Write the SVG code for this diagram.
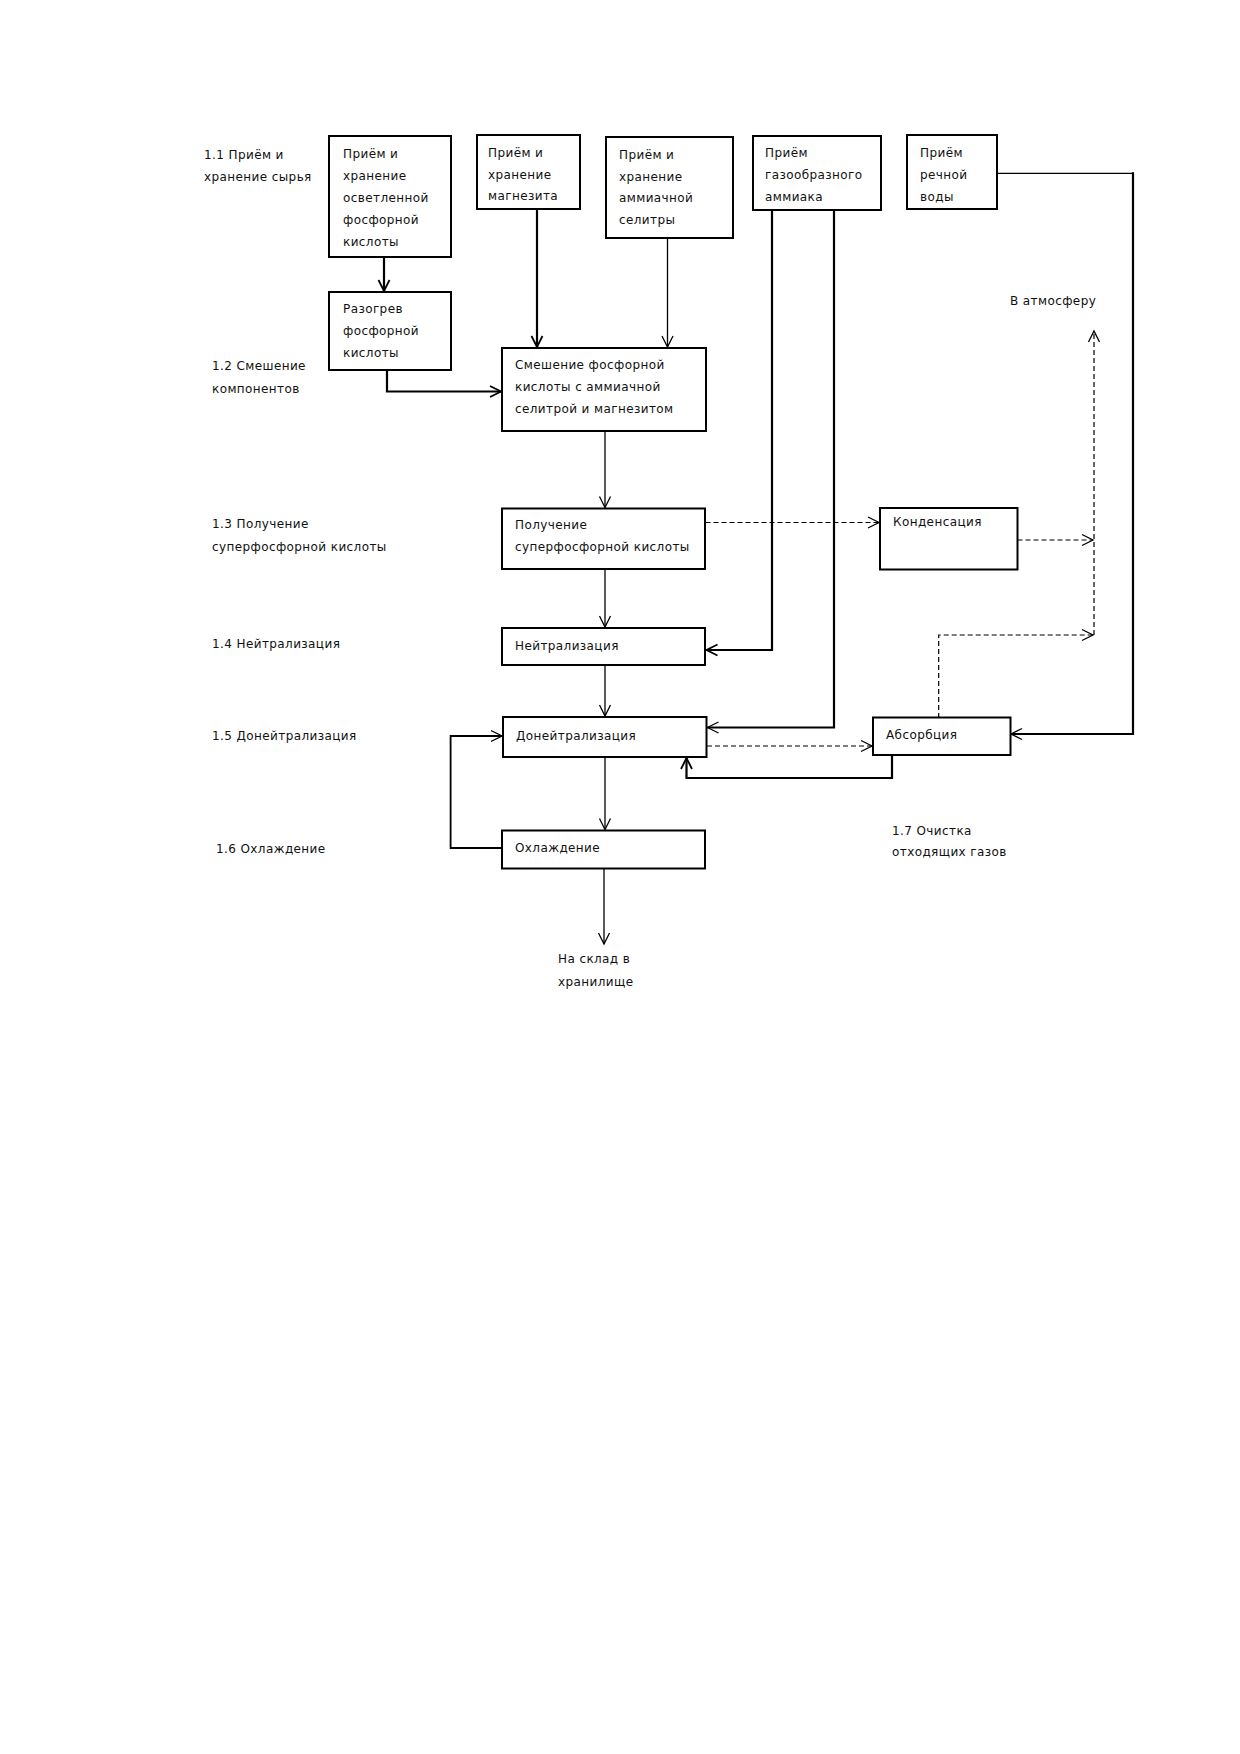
<svg xmlns="http://www.w3.org/2000/svg" width="1240" height="1754" viewBox="0 0 1240 1754">
<style>
text{font-family:"DejaVu Sans","Liberation Sans",sans-serif;font-size:12px;letter-spacing:0.4px;fill:#111}
.box{fill:#fff;stroke:#000;stroke-width:2}
.thin{fill:none;stroke:#000;stroke-width:1.3}
.thick{fill:none;stroke:#000;stroke-width:2.2}
.dash{fill:none;stroke:#000;stroke-width:1.2;stroke-dasharray:5,3}
</style>
<defs>
<marker id="a" markerUnits="userSpaceOnUse" orient="auto" refX="0" refY="0" markerWidth="14" markerHeight="14" overflow="visible">
<path d="M-11,-5.5 L0,0 L-11,5.5" fill="none" stroke="#000" stroke-width="1.3"/>
</marker>
<marker id="b" markerUnits="userSpaceOnUse" orient="auto" refX="0" refY="0" markerWidth="14" markerHeight="14" overflow="visible">
<path d="M-11,-5.5 L0,0 L-11,5.5" fill="none" stroke="#000" stroke-width="1.8"/>
</marker>
</defs>
<rect width="1240" height="1754" fill="#fff"/>
<g id="labels">
<text x="204" y="159">1.1 Приём и</text>
<text x="204" y="181">хранение сырья</text>
<text x="212" y="370">1.2 Смешение</text>
<text x="212" y="393">компонентов</text>
<text x="212" y="528">1.3 Получение</text>
<text x="212" y="551">суперфосфорной  кислоты</text>
<text x="212" y="648">1.4 Нейтрализация</text>
<text x="212" y="740">1.5 Донейтрализация</text>
<text x="216" y="853">1.6 Охлаждение</text>
<text x="892" y="835">1.7 Очистка</text>
<text x="892" y="856">отходящих газов</text>
<text x="558" y="963">На склад в</text>
<text x="558" y="986">хранилище</text>
<text x="1010" y="305">В атмосферу</text>
</g>
<g id="connectors">
<path class="thick" d="M384,257 V291" marker-end="url(#b)"/>
<path class="thick" d="M387,370 V391.5 H501" marker-end="url(#b)"/>
<path class="thick" d="M537,209 V347" marker-end="url(#b)"/>
<path class="thin" d="M667.5,238 V347" marker-end="url(#a)"/>
<path class="thin" d="M605,431 V507.5" marker-end="url(#a)"/>
<path class="thin" d="M605,569 V627" marker-end="url(#a)"/>
<path class="thin" d="M605,665 V716" marker-end="url(#a)"/>
<path class="thin" d="M605,757 V829.5" marker-end="url(#a)"/>
<path class="thin" d="M604,869 V944" marker-end="url(#a)"/>
<path class="thick" style="stroke-width:1.8" d="M502,848 H450.6 V736 H502" marker-end="url(#a)"/>
<path class="thick" d="M772,210 V650 H706.5" marker-end="url(#b)"/>
<path class="thick" d="M834,210 V727.5 H707.5" marker-end="url(#a)"/>
<path class="thin" d="M997,173.3 H1133"/>
<path class="thick" d="M1133,172.3 V734 H1011" marker-end="url(#a)"/>
<path class="thick" d="M892,755 V778 H686.5 V758" marker-end="url(#b)"/>
<path class="dash" d="M705.5,522.5 H879" marker-end="url(#a)"/>
<path class="dash" d="M1017.5,540 H1093" marker-end="url(#a)"/>
<path class="dash" d="M938.7,718 V635 H1093" marker-end="url(#a)"/>
<path class="dash" d="M1094,635 V331" marker-end="url(#a)"/>
<path class="dash" d="M707,746 H872" marker-end="url(#a)"/>
</g>
<g id="n1"><rect class="box" x="329" y="136" width="122" height="121"/>
<text x="343" y="158">Приём и</text><text x="343" y="180">хранение</text><text x="343" y="202">осветленной</text><text x="343" y="224">фосфорной</text><text x="343" y="246">кислоты</text></g>
<g id="n2"><rect class="box" x="477" y="135" width="103" height="74"/>
<text x="488" y="157">Приём и</text><text x="488" y="179">хранение</text><text x="488" y="200">магнезита</text></g>
<g id="n3"><rect class="box" x="606" y="137" width="127" height="101"/>
<text x="619" y="159">Приём и</text><text x="619" y="181">хранение</text><text x="619" y="202">аммиачной</text><text x="619" y="224">селитры</text></g>
<g id="n4"><rect class="box" x="753" y="136" width="128" height="74"/>
<text x="765" y="157">Приём</text><text x="765" y="179">газообразного</text><text x="765" y="201">аммиака</text></g>
<g id="n5"><rect class="box" x="907" y="135" width="90" height="74"/>
<text x="920" y="157">Приём</text><text x="920" y="179">речной</text><text x="920" y="201">воды</text></g>
<g id="n6"><rect class="box" x="329" y="292" width="122" height="78"/>
<text x="343" y="313">Разогрев</text><text x="343" y="335">фосфорной</text><text x="343" y="357">кислоты</text></g>
<g id="n7"><rect class="box" x="502" y="348" width="204" height="83"/>
<text x="515" y="369">Смешение фосфорной</text><text x="515" y="391">кислоты с аммиачной</text><text x="515" y="413">селитрой и магнезитом</text></g>
<g id="n8"><rect class="box" x="502" y="508.5" width="203" height="60.5"/>
<text x="515" y="528.5">Получение</text><text x="515" y="551">суперфосфорной  кислоты</text></g>
<g id="n9"><rect class="box" x="502" y="628" width="203" height="37"/>
<text x="515" y="650">Нейтрализация</text></g>
<g id="n10"><rect class="box" x="503" y="717" width="203.5" height="40"/>
<text x="516" y="740">Донейтрализация</text></g>
<g id="n11"><rect class="box" x="502" y="830.5" width="203" height="38"/>
<text x="515" y="852">Охлаждение</text></g>
<g id="n12"><rect class="box" x="880" y="508" width="137.5" height="61.5"/>
<text x="893" y="526">Конденсация</text></g>
<g id="n13"><rect class="box" x="873" y="717.5" width="137.5" height="37.5"/>
<text x="886" y="739">Абсорбция</text></g>
</svg>
